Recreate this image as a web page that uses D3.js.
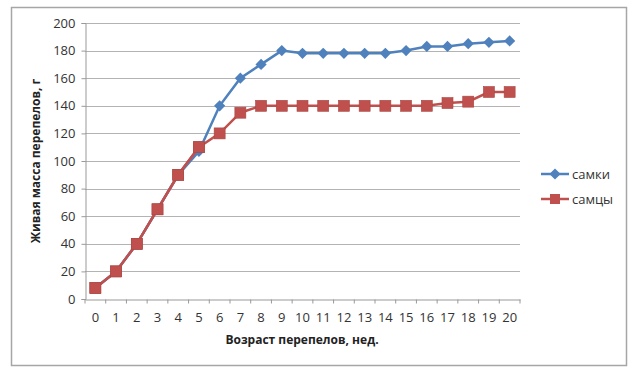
<!DOCTYPE html>
<html>
<head>
<meta charset="utf-8">
<script src="https://d3js.org/d3.v7.min.js"></script>
<style>
  body { margin: 0; background: #fff; }
  text { font-family: "Open Sans", "Liberation Sans", sans-serif; }
</style>
</head>
<body>
<svg id="chart"></svg>
<script>
var weeks = d3.range(0, 21).map(String);
var females = [8, 20, 40, 65, 90, 107, 140, 160, 170, 180, 178, 178, 178, 178, 178, 180, 183, 183, 185, 186, 187];
var males = [8, 20, 40, 65, 90, 110, 120, 135, 140, 140, 140, 140, 140, 140, 140, 140, 140, 142, 143, 150, 150];
var yTicks = [0, 20, 40, 60, 80, 100, 120, 140, 160, 180, 200];
var seriesNames = ["самки", "самцы"];

var width = 640, height = 372;
var svg = d3.select("#chart").attr("width", width).attr("height", height);

// outer frame
svg.append("rect")
  .attr("x", 11.5).attr("y", 7.5)
  .attr("width", 615).attr("height", 358)
  .attr("fill", "#fff")
  .attr("stroke", "#a6a6a6")
  .attr("stroke-width", 1.5);

var plotLeft = 85, plotRight = 520, plotTop = 23, plotBottom = 299;

var x = d3.scaleBand().domain(weeks).range([plotLeft, plotRight]);
var y = d3.scaleLinear().domain([0, 200]).range([plotBottom, plotTop]);

// grid
svg.append("g").selectAll("line")
  .data(yTicks.filter(function(d) { return d > 0; }))
  .enter().append("line")
  .attr("x1", plotLeft).attr("x2", plotRight)
  .attr("y1", function(d) { return Math.round(y(d)) + 0.5; })
  .attr("y2", function(d) { return Math.round(y(d)) + 0.5; })
  .attr("stroke", "#b3b3b3")
  .attr("stroke-width", 1);

// y axis
var yAxis = svg.append("g")
  .attr("transform", "translate(" + (plotLeft + 0.5) + ",0)")
  .call(d3.axisLeft(y).tickValues(yTicks).tickSize(4).tickPadding(6));
yAxis.select(".domain").attr("stroke", "#999");
yAxis.selectAll(".tick line").attr("stroke", "#999");
yAxis.selectAll("text").attr("font-size", 13).attr("fill", "#333")
  .attr("font-family", "'Open Sans', sans-serif");

// x axis
var xAxis = svg.append("g")
  .attr("transform", "translate(0," + (plotBottom + 0.5) + ")")
  .call(d3.axisBottom(x).tickSize(0).tickPadding(13));
xAxis.select(".domain").attr("stroke", "#999");
xAxis.selectAll("text").attr("font-size", 13).attr("fill", "#333")
  .attr("font-family", "'Open Sans', sans-serif");
// boundary ticks between categories
xAxis.selectAll(".bt")
  .data(d3.range(0, 22))
  .enter().append("line")
  .attr("x1", function(i) { return plotLeft + i * x.step(); })
  .attr("x2", function(i) { return plotLeft + i * x.step(); })
  .attr("y1", 0).attr("y2", 4)
  .attr("stroke", "#999");

// axis titles
svg.append("text")
  .attr("x", 302).attr("y", 344)
  .attr("text-anchor", "middle")
  .attr("font-size", 12).attr("font-weight", "bold").attr("fill", "#222")
  .text("Возраст перепелов, нед.");
svg.append("text")
  .attr("transform", "translate(40,161) rotate(-90)")
  .attr("text-anchor", "middle")
  .attr("font-size", 12).attr("font-weight", "bold").attr("fill", "#222")
  .text("Живая масса перепелов, г");

var cx = function(d, i) { return x(weeks[i]) + x.bandwidth() / 2; };
var line = d3.line().x(cx).y(function(d) { return y(d); });

var blue = "#4f81bd", red = "#c0504d";

// males (red)
svg.append("path").datum(males)
  .attr("d", line).attr("fill", "none")
  .attr("stroke", red).attr("stroke-width", 2.5);
svg.append("g").selectAll("rect")
  .data(males).enter().append("rect")
  .attr("x", function(d, i) { return cx(d, i) - 5.5; })
  .attr("y", function(d) { return y(d) - 5.5; })
  .attr("width", 11).attr("height", 11)
  .attr("fill", red).attr("stroke", "#a94643").attr("stroke-width", 0.6);

// females (blue), drawn on top
svg.append("path").datum(females)
  .attr("d", line).attr("fill", "none")
  .attr("stroke", blue).attr("stroke-width", 2.5);
var diamond = d3.symbol().type(d3.symbolDiamond2).size(80);
svg.append("g").selectAll("path")
  .data(females).enter().append("path")
  .attr("d", diamond)
  .attr("transform", function(d, i) { return "translate(" + cx(d, i) + "," + y(d) + ")"; })
  .attr("fill", blue);

// redraw red line and markers for first weeks, where red covers blue
svg.append("path").datum(males.slice(0, 6))
  .attr("d", line).attr("fill", "none")
  .attr("stroke", red).attr("stroke-width", 2.5);
svg.append("g").selectAll("rect")
  .data(males.slice(0, 6)).enter().append("rect")
  .attr("x", function(d, i) { return cx(d, i) - 5.5; })
  .attr("y", function(d) { return y(d) - 5.5; })
  .attr("width", 11).attr("height", 11)
  .attr("fill", red).attr("stroke", "#a94643").attr("stroke-width", 0.6);

// legend
var legend = svg.append("g");
var legY = [174, 199];
var colors = [blue, red];
seriesNames.forEach(function(name, i) {
  legend.append("line")
    .attr("x1", 541).attr("x2", 569)
    .attr("y1", legY[i]).attr("y2", legY[i])
    .attr("stroke", colors[i]).attr("stroke-width", 2.5);
  if (i === 0) {
    legend.append("path").attr("d", diamond)
      .attr("transform", "translate(555," + legY[i] + ")")
      .attr("fill", blue);
  } else {
    legend.append("rect")
      .attr("x", 550).attr("y", legY[i] - 5)
      .attr("width", 10).attr("height", 10)
      .attr("fill", red);
  }
  legend.append("text")
    .attr("x", 572).attr("y", legY[i] + 4.5)
    .attr("font-size", 13).attr("fill", "#333")
    .text(name);
});
</script>
</body>
</html>
